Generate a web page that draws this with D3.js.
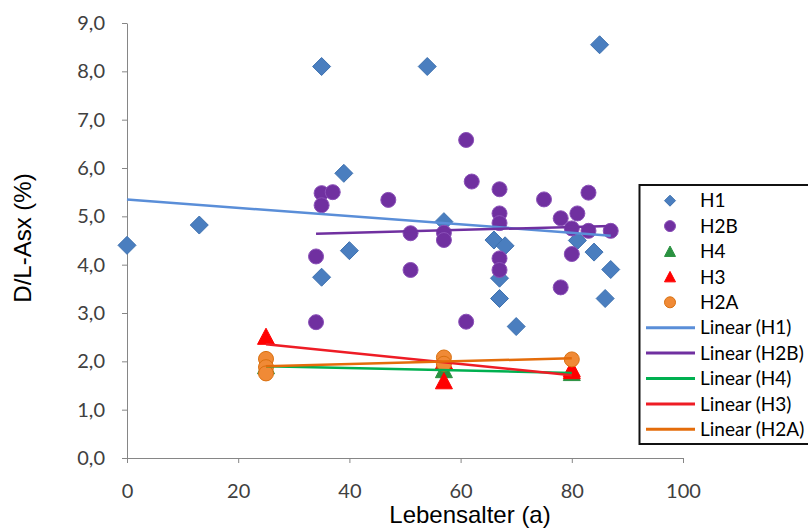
<!DOCTYPE html>
<html>
<head>
<meta charset="utf-8">
<script src="https://cdn.jsdelivr.net/npm/d3@7"></script>
<style>
  body { margin: 0; background: #fff; }
  svg { display: block; }
</style>
</head>
<body>
<svg id="chart" width="808" height="531"></svg>
<script>
// tick labels
const xTicks = [0, 20, 40, 60, 80, 100];
const yTicks = [0, 1, 2, 3, 4, 5, 6, 7, 8, 9];

// [age, D/L-Asx %]
const h1 = [
  [0, 4.4], [13, 4.82], [35, 8.1], [54, 8.1], [85, 8.55], [39, 5.89],
  [40, 4.29], [35, 3.74], [57, 4.89], [66, 4.51], [68, 4.39], [67, 3.72],
  [67, 3.3], [70, 2.72], [81, 4.5], [84, 4.26], [87, 3.9], [86, 3.3]
];
const h2b = [
  [34, 4.17], [34, 2.81], [35, 5.48], [37, 5.5], [35, 5.23], [47, 5.34],
  [51, 4.65], [51, 3.89], [57, 4.66], [57, 4.51], [61, 6.58], [62, 5.72],
  [61, 2.82], [67, 5.56], [67, 5.06], [67, 4.86], [67, 4.13], [67, 3.89],
  [75, 5.35], [78, 4.96], [81, 5.06], [80, 4.75], [83, 4.7], [83, 5.49],
  [87, 4.7], [80, 4.22], [78, 3.53]
];
const h4 = [[25, 1.9], [57, 1.82], [80, 1.76]];
const h3 = [[25, 2.51], [57, 1.59], [57, 2.0], [80, 1.84], [80, 1.8]];
const h2a = [[25, 2.05], [25, 1.88], [25, 1.75], [57, 2.08], [57, 1.95], [80, 2.04]];

const seriesNames = ["H1", "H2B", "H4", "H3", "H2A"];

const width = 808;
const height = 531;
const margin = { top: 23, right: 125, bottom: 73, left: 127 };

const svg = d3.select("#chart");
svg.append("rect").attr("width", width).attr("height", height).attr("fill", "#fff");

const x = d3.scaleLinear().domain([0, 100]).range([margin.left, width - margin.right]);
const y = d3.scaleLinear().domain([0, 9]).range([height - margin.bottom, margin.top]);

const comma = d => d3.format(".1f")(d).replace(".", ",");

// axes
const xAxis = svg.append("g")
  .attr("transform", `translate(0,${y(0)})`)
  .call(d3.axisBottom(x).tickValues(xTicks).tickSize(5).tickSizeOuter(0).tickPadding(21));
const yAxis = svg.append("g")
  .attr("transform", `translate(${x(0)},0)`)
  .call(d3.axisLeft(y).tickValues(yTicks).tickFormat(comma).tickSize(5).tickSizeOuter(0).tickPadding(17));

[xAxis, yAxis].forEach(g => {
  g.select(".domain").attr("stroke", "#868686");
  g.selectAll(".tick line").attr("stroke", "#868686");
  g.selectAll(".tick text")
    .attr("fill", "#404040")
    .style("font-family", "Lato, 'Open Sans', sans-serif")
    .style("font-size", "20px");
});

svg.append("text")
  .attr("x", 470).attr("y", 523)
  .attr("text-anchor", "middle")
  .style("font-family", "'Liberation Sans', Arial, sans-serif")
  .style("font-size", "24px")
  .text("Lebensalter (a)");

svg.append("text")
  .attr("transform", "translate(31,238) rotate(-90)")
  .attr("text-anchor", "middle")
  .style("font-family", "'Liberation Sans', Arial, sans-serif")
  .style("font-size", "24px")
  .text("D/L-Asx (%)");

// marker shapes, r = half size
const shapes = {
  diamond: r => `M0,${-r}L${r},0L0,${r}L${-r},0Z`,
  circle: r => `M${r},0A${r},${r} 0 1,1 ${-r},0A${r},${r} 0 1,1 ${r},0Z`,
  triangle: r => `M0,${-r}L${r},${r * 0.9}L${-r},${r * 0.9}Z`
};

const styles = [
  { data: h1, shape: "diamond", r: 9, fill: "#4a7ebf", stroke: "#3f72b0", line: "#5a8ed8" },
  { data: h2b, shape: "circle", r: 7.5, fill: "#7030a0", stroke: "#8a50b8", line: "#7030a0" },
  { data: h4, shape: "triangle", r: 8.5, fill: "#2a9140", stroke: "#2a9140", line: "#00b050" },
  { data: h3, shape: "triangle", r: 8.5, fill: "#ff0000", stroke: "#ff0000", line: "#ee1c25" },
  { data: h2a, shape: "circle", r: 7.5, fill: "#f08a36", stroke: "#d9700f", line: "#e46c0a" }
];

// markers
styles.forEach(s => {
  svg.append("g")
    .selectAll("path")
    .data(s.data)
    .join("path")
    .attr("transform", d => `translate(${x(d[0])},${y(d[1])})`)
    .attr("d", shapes[s.shape](s.r))
    .attr("fill", s.fill)
    .attr("stroke", s.stroke)
    .attr("stroke-width", 1);
});

// linear trend lines (least squares), drawn over the markers
function fit(pts) {
  const mx = d3.mean(pts, d => d[0]);
  const my = d3.mean(pts, d => d[1]);
  const sxy = d3.sum(pts, d => (d[0] - mx) * (d[1] - my));
  const sxx = d3.sum(pts, d => (d[0] - mx) ** 2);
  const b = sxy / sxx;
  const [x0, x1] = d3.extent(pts, d => d[0]);
  return [[x0, my + b * (x0 - mx)], [x1, my + b * (x1 - mx)]];
}

const line = d3.line().x(d => x(d[0])).y(d => y(d[1]));
styles.forEach(s => {
  svg.append("path")
    .attr("d", line(fit(s.data)))
    .attr("fill", "none")
    .attr("stroke", s.line)
    .attr("stroke-width", 2.5);
});

// legend
const lg = svg.append("g");
lg.append("rect")
  .attr("x", 639.5).attr("y", 185)
  .attr("width", 190).attr("height", 259)
  .attr("fill", "#fff")
  .attr("stroke", "#111")
  .attr("stroke-width", 2);

const rowY = i => 200.7 + i * 25.4;
const legendFont = "Lato, 'Open Sans', sans-serif";

styles.forEach((s, i) => {
  lg.append("path")
    .attr("transform", `translate(670,${rowY(i)})`)
    .attr("d", shapes[s.shape](5.5))
    .attr("fill", s.fill)
    .attr("stroke", s.stroke);
  lg.append("text")
    .attr("x", 700).attr("y", rowY(i))
    .attr("dy", "0.35em")
    .style("font-family", legendFont)
    .style("font-size", "19px")
    .text(seriesNames[i]);

  lg.append("line")
    .attr("x1", 646).attr("x2", 695)
    .attr("y1", rowY(i + 5)).attr("y2", rowY(i + 5))
    .attr("stroke", s.line)
    .attr("stroke-width", 3);
  lg.append("text")
    .attr("x", 700).attr("y", rowY(i + 5))
    .attr("dy", "0.35em")
    .style("font-family", legendFont)
    .style("font-size", "19px")
    .text(`Linear (${seriesNames[i]})`);
});
</script>
</body>
</html>
